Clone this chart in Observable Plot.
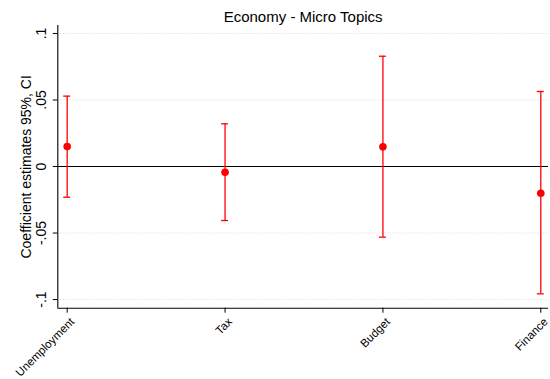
<!DOCTYPE html>
<html><head><meta charset="utf-8">
<script src="https://cdn.jsdelivr.net/npm/d3@7"></script>
<script src="https://cdn.jsdelivr.net/npm/@observablehq/plot@0.6"></script>
<style>body{margin:0;background:#fff} svg{display:block}</style>
</head><body><div id="chart"></div>
<script>
const categories = ["Unemployment", "Tax", "Budget", "Finance"];
const estimates = [0.0150, -0.0043, 0.0148, -0.0201];
const ciLow = [-0.0231, -0.0406, -0.0531, -0.0957];
const ciHigh = [0.0529, 0.0321, 0.0829, 0.0564];
const yTicks = [-0.1, -0.05, 0, 0.05, 0.1];
const yTickLabels = ["-.1", "-.05", "0", ".05", ".1"];
const title = "Economy - Micro Topics";
const yLabel = "Coefficient estimates 95%, CI";

const data = categories.map((c, i) => ({i, c, est: estimates[i], lo: ciLow[i], hi: ciHigh[i]}));
const font = "'Liberation Sans', Arial, Helvetica, sans-serif";
const yMin = -0.1065, yMax = 0.106;
const xMin = -0.0595, xMax = 3.0488;
const capHalf = 0.022;

const plot = Plot.plot({
  width: 550, height: 379,
  marginLeft: 57.3, marginRight: 2, marginTop: 25, marginBottom: 71.3,
  style: {fontFamily: font, background: "#fff", overflow: "visible", color: "#000"},
  x: {type: "linear", domain: [xMin, xMax], axis: null},
  y: {domain: [yMin, yMax], axis: null},
  marks: [
    Plot.ruleY(yTicks.filter(d => d !== 0), {stroke: "#d6d6d6", strokeDasharray: "1,2"}),
    Plot.ruleY([0], {stroke: "#000", strokeWidth: 1.1}),
    Plot.ruleX([xMin], {stroke: "#000", strokeWidth: 1.1}),
    Plot.ruleY([yMin], {stroke: "#000", strokeWidth: 1.1}),
    Plot.axisY({ticks: yTicks, tickSize: 4.5, tickFormat: () => "", label: null}),
    Plot.axisX({ticks: data.map(d => d.i), tickSize: 5, tickFormat: () => "", label: null}),
    Plot.text(yTicks, {y: d => d, text: (d, i) => yTickLabels[i], frameAnchor: "left", dx: -12.3,
      rotate: -90, textAnchor: "middle", lineAnchor: "bottom", fontSize: 14, fill: "#000"}),
    Plot.text([yLabel], {frameAnchor: "left", dx: -26.8, rotate: -90, textAnchor: "middle",
      lineAnchor: "bottom", fontSize: 14, fill: "#000"}),
    Plot.text(data, {x: "i", text: "c", frameAnchor: "bottom", dx: 2, dy: 8.5, rotate: -45,
      textAnchor: "end", lineAnchor: "top", fontSize: 11.5, fill: "#000"}),
    Plot.text([title], {frameAnchor: "top", dy: -3.5, lineAnchor: "bottom", fontSize: 15, fill: "#000"}),
    Plot.ruleX(data, {x: "i", y1: "lo", y2: "hi", stroke: "#ff0000", strokeWidth: 1.3}),
    Plot.ruleY(data, {y: "lo", x1: d => d.i - capHalf, x2: d => d.i + capHalf, stroke: "#ff0000", strokeWidth: 1.3}),
    Plot.ruleY(data, {y: "hi", x1: d => d.i - capHalf, x2: d => d.i + capHalf, stroke: "#ff0000", strokeWidth: 1.3}),
    Plot.dot(data, {x: "i", y: "est", r: 3.8, fill: "#ff0000", stroke: null})
  ]
});
document.getElementById("chart").appendChild(plot);
</script>
</body></html>
